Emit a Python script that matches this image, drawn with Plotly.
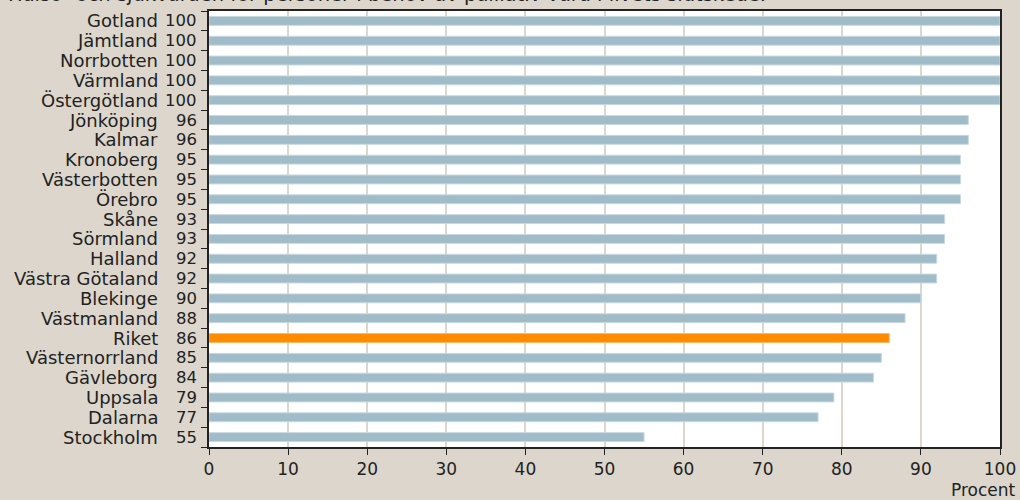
import plotly.graph_objects as go

regions = ["Gotland", "Jämtland", "Norrbotten", "Värmland", "Östergötland", "Jönköping",
           "Kalmar", "Kronoberg", "Västerbotten", "Örebro", "Skåne", "Sörmland", "Halland",
           "Västra Götaland", "Blekinge", "Västmanland", "Riket", "Västernorrland",
           "Gävleborg", "Uppsala", "Dalarna", "Stockholm"]
values = [100, 100, 100, 100, 100, 96, 96, 95, 95, 95, 93, 93, 92, 92, 90, 88, 86, 85, 84, 79, 77, 55]
x_ticks = [0, 10, 20, 30, 40, 50, 60, 70, 80, 90, 100]
title_text = "Hälso- och sjukvården för personer i behov av palliativ vård i livets slutskede."
x_title = "Procent"

FONT = "Century Gothic, URW Gothic, DejaVu Sans, sans-serif"
BLUE = "#a0bcc8"
ORANGE = "#ff8c00"
BG = "#dcd6cc"

colors = [ORANGE if r == "Riket" else BLUE for r in regions]
line_colors = ["#ffb860" if r == "Riket" else "#c9d9e0" for r in regions]

fig = go.Figure()
fig.add_trace(go.Bar(
    x=values, y=regions, orientation="h",
    marker=dict(color=colors, line=dict(color=line_colors, width=1)),
    width=0.45, hoverinfo="skip",
))

W, H = 1020, 500
L, R, T, B = 209, 20, 11, 53
pw = W - L - R
ph = H - T - B

def px_to_paper_x(px):
    return (px - L) / pw

def px_to_paper_y(py):
    return (H - B - py) / ph

annotations = []
for r, v in zip(regions, values):
    annotations.append(dict(x=px_to_paper_x(160), xref="paper", y=r, yref="y",
                            text=r, showarrow=False, xanchor="right", yanchor="middle",
                            font=dict(family=FONT, size=18, color="#222")))
    annotations.append(dict(x=px_to_paper_x(199), xref="paper", y=r, yref="y",
                            text=str(v), showarrow=False, xanchor="right", yanchor="middle",
                            font=dict(family=FONT, size=16.5, color="#222")))
annotations.append(dict(x=px_to_paper_x(1018), xref="paper", y=px_to_paper_y(490), yref="paper",
                        text=x_title, showarrow=False, xanchor="right",
                        yanchor="middle", font=dict(family=FONT, size=17, color="#222")))
annotations.append(dict(x=px_to_paper_x(6), xref="paper", y=px_to_paper_y(-6), yref="paper",
                        text=title_text, showarrow=False, xanchor="left", yanchor="middle",
                        font=dict(family=FONT, size=19.5, color="#222")))

fig.update_layout(
    width=W, height=H,
    margin=dict(l=L, r=R, t=T, b=B, autoexpand=False),
    paper_bgcolor=BG, plot_bgcolor="white",
    showlegend=False,
    annotations=annotations,
    xaxis=dict(range=[0, 100], tickvals=x_ticks, showgrid=True, gridcolor=BG, gridwidth=2,
               showline=True, linecolor="#222", linewidth=2, mirror=True,
               ticks="outside", ticklen=6, tickcolor="#222", tickwidth=1,
               tickfont=dict(family=FONT, size=17, color="#222"), zeroline=False,
               automargin=False, fixedrange=True),
    yaxis=dict(type="category", categoryorder="array", categoryarray=regions[::-1],
               autorange=False, range=[-0.5, len(regions) - 0.5],
               showticklabels=False, ticks="outside", tickson="boundaries", ticklen=6,
               tickcolor="#222", showline=True, linecolor="#222", linewidth=2, mirror=True,
               showgrid=False, automargin=False, fixedrange=True),
)

fig.write_html("out.html")
